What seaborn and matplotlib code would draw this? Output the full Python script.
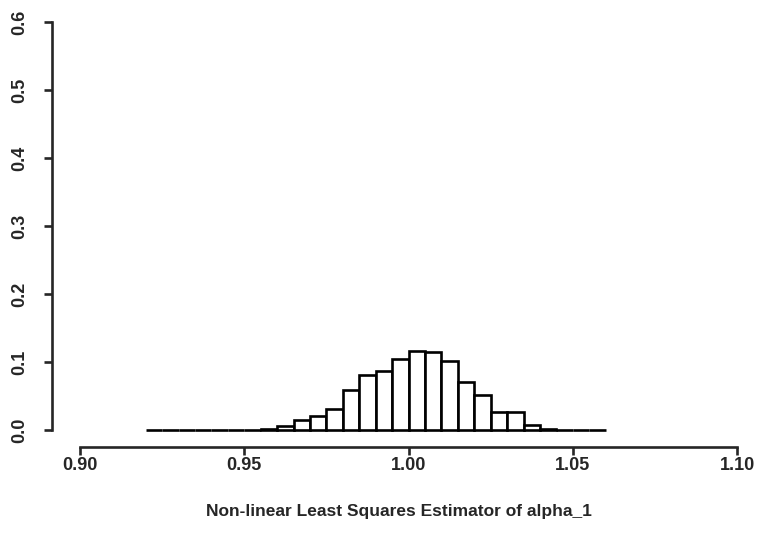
import numpy as np
import matplotlib
matplotlib.use("Agg")
import matplotlib.pyplot as plt
import seaborn as sns

# Bin edges step 0.005 from 0.92 to 1.06; values are bar heights (proportion per bin)
bin_left = [0.920, 0.925, 0.930, 0.935, 0.940, 0.945, 0.950, 0.955, 0.960, 0.965,
            0.970, 0.975, 0.980, 0.985, 0.990, 0.995, 1.000, 1.005, 1.010, 1.015,
            1.020, 1.025, 1.030, 1.035, 1.040, 1.045, 1.050, 1.055]
heights = [0.0, 0.0, 0.0, 0.0, 0.0, 0.0, 0.0, 0.002, 0.006, 0.014,
           0.021, 0.031, 0.059, 0.081, 0.087, 0.104, 0.116, 0.115, 0.101, 0.071,
           0.052, 0.026, 0.026, 0.008, 0.001, 0.0, 0.0, 0.0]
x_ticks = [0.90, 0.95, 1.00, 1.05, 1.10]
x_tick_labels = ["0.90", "0.95", "1.00", "1.05", "1.10"]
y_ticks = [0.0, 0.1, 0.2, 0.3, 0.4, 0.5, 0.6]
y_tick_labels = ["0.0", "0.1", "0.2", "0.3", "0.4", "0.5", "0.6"]
x_label = "Non-linear Least Squares Estimator of alpha_1"

sns.set_style("ticks")
plt.rcParams['font.family'] = ['Liberation Sans', 'DejaVu Sans']

W, H = 759, 552
fig = plt.figure(figsize=(W / 100, H / 100), dpi=100)
ax = fig.add_axes([52 / W, 1 - 447 / H, (745 - 52) / W, (447 - 18) / H])

step = 0.005
edges = [round(b, 3) for b in bin_left] + [round(bin_left[-1] + step, 3)]
centers = [b + step / 2 for b in bin_left]
sns.histplot(x=centers, weights=heights, bins=edges, stat="count",
             color="white", edgecolor="black", linewidth=1.9, alpha=1, ax=ax)

ax.set_xlim(0.8915, 1.1024)
ax.set_ylim(-0.025, 0.6059)

for s in ["top", "right"]:
    ax.spines[s].set_visible(False)
ax.spines["left"].set_bounds(0.0, 0.6)
ax.spines["bottom"].set_bounds(0.90, 1.10)
ax.spines["left"].set_linewidth(1.9)
ax.spines["bottom"].set_linewidth(1.9)

ax.set_xticks(x_ticks)
ax.set_xticklabels(x_tick_labels, fontsize=13, fontweight="bold")
ax.set_yticks(y_ticks)
ax.set_yticklabels(y_tick_labels, fontsize=13, fontweight="bold", rotation=90, va="center")
ax.tick_params(axis="both", direction="out", length=6, width=1.9)
ax.tick_params(axis="x", pad=1)
ax.tick_params(axis="y", pad=11)

ax.set_xlabel(x_label, fontsize=12.5, fontweight="bold", labelpad=22)
ax.set_ylabel("")

fig.savefig("out.png", dpi=100)
